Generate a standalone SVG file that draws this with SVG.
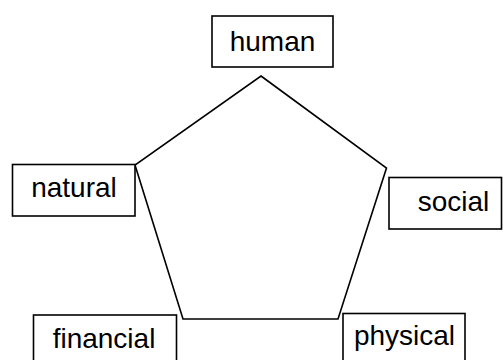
<svg xmlns="http://www.w3.org/2000/svg" width="503" height="360" viewBox="0 0 503 360">
  <style>
    .box rect { fill: #ffffff; stroke: #000000; stroke-width: 1.6; }
    .box text { font-family: "Liberation Sans", Arial, sans-serif; font-size: 28px; fill: #000000; }
    .edge { fill: none; stroke: #000000; stroke-width: 1.6; stroke-linejoin: miter; }
  </style>
  <rect x="0" y="0" width="503" height="360" fill="#ffffff"/>

  <!-- pentagon joining the five capitals -->
  <g id="connectors">
    <polygon class="edge" points="261,76 386.5,168 338,319 183,319 135,165"/>
  </g>

  <g id="human" class="box">
    <rect x="212" y="16" width="121" height="51"/>
    <text x="272.5" y="51" text-anchor="middle">human</text>
  </g>

  <g id="natural" class="box">
    <rect x="12.5" y="164.5" width="122.5" height="51.5"/>
    <text x="74" y="197" text-anchor="middle">natural</text>
  </g>

  <g id="social" class="box">
    <rect x="389" y="177.5" width="112.5" height="51.5"/>
    <text x="453.5" y="211" text-anchor="middle">social</text>
  </g>

  <g id="financial" class="box">
    <rect x="33.5" y="315" width="143" height="60"/>
    <text x="104" y="347.5" text-anchor="middle">financial</text>
  </g>

  <g id="physical" class="box">
    <rect x="343" y="313.5" width="122" height="60"/>
    <text x="404.5" y="344.5" text-anchor="middle">physical</text>
  </g>
</svg>
